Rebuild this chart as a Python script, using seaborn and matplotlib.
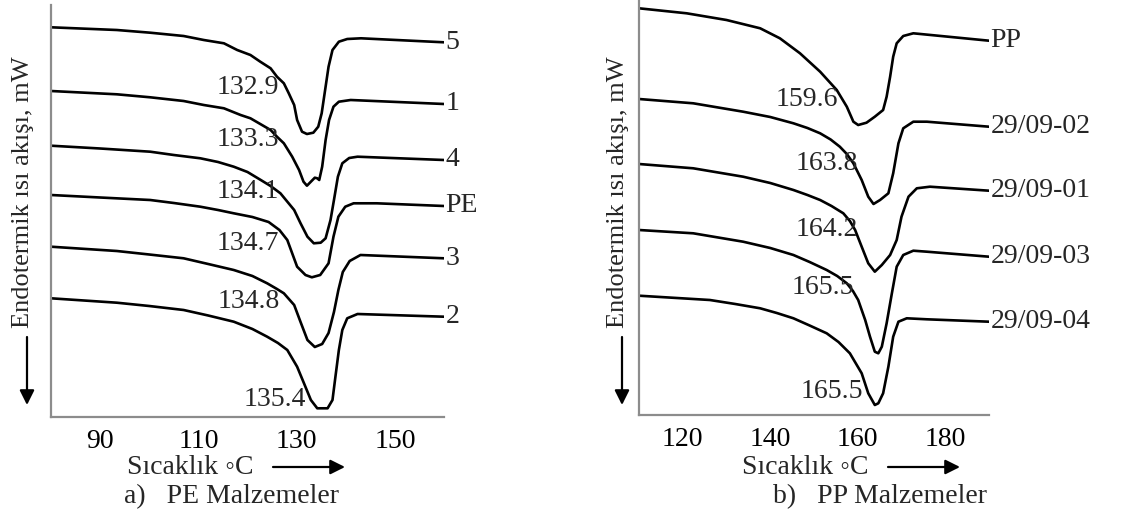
import numpy as np
import pandas as pd
import matplotlib
matplotlib.use("Agg")
import matplotlib.pyplot as plt
import seaborn as sns

# ---------------- data ----------------
# heat flow in arbitrary units (endotherm downward)
pe_names = ["5", "1", "4", "PE", "3", "2"]
pe_peaks = ["132.9", "133.3", "134.1", "134.7", "134.8", "135.4"]

pe5_T = [80, 93.4, 100.2, 107.0, 111.1, 115.2, 117.9, 120.6, 122.6, 124.7, 126.0, 127.4, 128.4, 129.5, 130.1, 131.1, 132.1, 133.4, 134.4, 135.1, 135.8, 136.5, 137.3, 138.6, 140.3, 143.1, 160]
pe5_q = [-27.3, -30, -32.7, -36, -40, -43.3, -50, -55, -61.7, -68.3, -76.7, -83.3, -93.3, -105, -120, -131.7, -134, -132.7, -126.7, -113.3, -90, -66.7, -50, -41.7, -39, -38.3, -42.3]

pe1_T = [80, 93.4, 100.2, 107.0, 111.1, 115.2, 118.6, 120.6, 122.6, 124.7, 126.0, 127.4, 129.1, 130.5, 131.4, 132.1, 132.9, 133.7, 134.2, 134.6, 135.2, 135.9, 136.6, 137.5, 138.6, 141.0, 160]
pe1_q = [-91, -94.3, -97.3, -101, -105, -108.3, -115, -118.3, -124, -130, -136.7, -143.3, -156.7, -170, -181.7, -185.7, -181.7, -177.7, -178.3, -180, -166.7, -140, -120, -106.7, -101.7, -100, -104]

pe4_T = [80, 90, 100.2, 105, 110.4, 114, 117.2, 120, 122.7, 124.7, 126.7, 129.5, 130.8, 132.2, 133.5, 134.9, 135.9, 136.9, 137.6, 138.4, 139.3, 140.7, 142.4, 160]
pe4_q = [-145.7, -148.5, -151.7, -155, -158.3, -162, -166.7, -172, -180, -186, -193.3, -210, -223.3, -236.7, -243.3, -242.7, -238.3, -220, -200, -176.7, -163.3, -158, -156.7, -160]

pePE_T = [80, 90, 100.2, 105, 110.4, 114, 117.2, 121, 124.3, 126.5, 128.1, 130.1, 131.8, 133.1, 134.8, 136.5, 137.5, 138.5, 139.9, 141.6, 146.3, 160]
pePE_q = [-195, -197.5, -200, -203, -206.7, -210, -213.3, -217, -222, -230, -240, -266.7, -275, -277.3, -275, -263.3, -236.7, -216.7, -206.7, -203.3, -203.3, -206]

pe3_T = [80, 93.4, 100, 107.0, 112, 117.2, 121, 124.0, 126, 127.4, 129.5, 130.8, 132.2, 133.7, 135.2, 136.5, 137.6, 138.5, 139.4, 140.8, 143.0, 160]
pe3_q = [-246.7, -251, -254.5, -258.3, -264, -270, -276, -283.3, -289, -293.3, -305, -322, -340, -347, -344, -333, -312, -290, -272, -261, -255, -258.3]

pe2_T = [80, 93.4, 100, 107.0, 112, 117.2, 121, 124.0, 126.2, 128.1, 130.1, 131.5, 132.9, 134.2, 136.3, 137.3, 137.9, 138.6, 139.3, 140.3, 142.4, 160]
pe2_q = [-298.3, -302.7, -306, -310, -315.5, -321.7, -329, -336.7, -343, -350, -366.7, -383.3, -400, -408.3, -408.3, -400, -376.7, -350, -330, -318.3, -314, -316.7]

pp_names = ["PP", "29/09-02", "29/09-01", "29/09-03", "29/09-04"]
pp_peaks = ["159.6", "163.8", "164.2", "165.5", "165.5"]

ppPP_T = [110, 120.9, 130, 137.7, 142.2, 146.8, 151.4, 155.2, 157.5, 159, 160.1, 162, 163.9, 165.8, 166.6, 167.4, 168.1, 168.9, 170.4, 172.7, 190]
ppPP_q = [-8.3, -13.3, -20, -28.3, -38.3, -53.3, -71.7, -90, -106.7, -121.7, -125, -122.7, -116.7, -110, -96.7, -76.7, -56.7, -43.3, -36, -33.3, -40.7]

pp02_T = [110, 122.4, 133.8, 140, 145.3, 148.5, 151.4, 153.8, 155.9, 157.5, 159, 160.9, 162.4, 163.6, 165.1, 167, 168.1, 169.3, 170.4, 172.7, 175.8, 190]
pp02_q = [-99, -103.3, -111.7, -117, -123.3, -128, -133.3, -139.5, -146.7, -154, -163.3, -180, -196.7, -204, -200, -193.3, -173.3, -143.3, -128.3, -121.7, -121.7, -126.7]

pp01_T = [110, 122.4, 133.8, 140, 145.3, 148.5, 151.4, 154, 156.7, 158.2, 159.4, 160.9, 162.4, 163.9, 165.5, 167.4, 168.9, 170, 171.6, 173.5, 176.5, 190]
pp01_q = [-164, -168.3, -176.7, -183, -190, -195, -200, -206, -213.3, -221, -230, -246.7, -263.3, -271.7, -265, -255, -240, -216.7, -196.7, -188.3, -186.7, -190.7]

pp03_T = [110, 122.4, 133.8, 140, 145.3, 149, 152.9, 155.3, 157.5, 158.9, 160.1, 161.7, 162.8, 163.9, 164.7, 165.5, 166.6, 167.8, 168.9, 170.4, 172.7, 175.8, 190]
pp03_q = [-230, -233.3, -241.7, -248, -255, -262, -270, -276, -283.3, -291, -300, -320, -336.7, -351.7, -353.3, -346.7, -323.3, -293.3, -266.7, -255, -250.7, -251.7, -256.7]

pp04_T = [110, 126.2, 132, 137.7, 141.5, 145.3, 149, 152.9, 155.6, 158.2, 160.9, 162.4, 163.9, 164.7, 165.8, 167, 168.1, 169.3, 171.2, 175.8, 190]
pp04_q = [-295.7, -300, -304, -308.3, -313, -318.3, -325.5, -333.3, -342, -353.3, -373.3, -393.3, -405, -403.3, -393.3, -366.7, -336.7, -321.7, -318.3, -319.3, -321.7]

pe_ticks = [90, 100, 110, 120, 130, 140, 150, 160]
pe_ticklabels = ["90", "", "110", "", "130", "", "150", ""]
pp_ticks = [120, 130, 140, 150, 160, 170, 180, 190]
pp_ticklabels = ["120", "", "140", "", "160", "", "180", ""]

# ---------------- build tables ----------------
pe_series = [(pe5_T, pe5_q), (pe1_T, pe1_q), (pe4_T, pe4_q), (pePE_T, pePE_q), (pe3_T, pe3_q), (pe2_T, pe2_q)]
pp_series = [(ppPP_T, ppPP_q), (pp02_T, pp02_q), (pp01_T, pp01_q), (pp03_T, pp03_q), (pp04_T, pp04_q)]

def to_df(names, series):
    rows = []
    for n, (t, q) in zip(names, series):
        for a, b in zip(t, q):
            rows.append({"T": a, "q": b, "name": n})
    return pd.DataFrame(rows)

pe_df = to_df(pe_names, pe_series)
pp_df = to_df(pp_names, pp_series)

# ---------------- style ----------------
sns.set_style("white")
plt.rcParams["font.family"] = ["Liberation Serif", "DejaVu Serif"]
FS = 20
AXC = "#8c8c8c"

W, H = 1144, 516
fig = plt.figure(figsize=(W / 100, H / 100), dpi=100)

def px(x, y):
    return (x / W, 1 - y / H)

ax1 = fig.add_axes([51 / W, 1 - 417 / H, (444 - 51) / W, (417 - 5) / H])
ax2 = fig.add_axes([639 / W, 1 - 415 / H, (989 - 639) / W, 415 / H])

for ax, df, names, xlim, ylim, ticks, tlabels in [
    (ax1, pe_df, pe_names, (80, 160), (-417, -5), pe_ticks, pe_ticklabels),
    (ax2, pp_df, pp_names, (110, 190), (-415, 0), pp_ticks, pp_ticklabels),
]:
    sns.lineplot(data=df, x="T", y="q", hue="name", hue_order=names,
                 palette={n: "black" for n in names}, estimator=None, sort=False,
                 linewidth=1.9, legend=False, ax=ax)
    for ln in ax.get_lines():
        ln.set_solid_joinstyle("round")
        ln.set_solid_capstyle("round")
    ax.set_xlim(*xlim)
    ax.set_ylim(*ylim)
    ax.set_xticks(ticks)
    ax.set_xticklabels(tlabels)
    ax.set_yticks([])
    ax.set_xlabel("")
    ax.set_ylabel("")
    for s in ["top", "right"]:
        ax.spines[s].set_visible(False)
    for s in ["left", "bottom"]:
        ax.spines[s].set_color(AXC)
        ax.spines[s].set_linewidth(1.6)
    ax.tick_params(axis="x", direction="out", length=6, width=1.6, color=AXC,
                   labelsize=FS, labelcolor="black", pad=3)
    # end-of-curve labels
    for n in names:
        sub = df[df["name"] == n]
        ax.text(sub["T"].iloc[-1] + 0.3, sub["q"].iloc[-1], n, ha="left", va="center",
                fontsize=FS, clip_on=False)

# peak temperature annotations (layout positions)
pe_lab_pos = [(126.5, -87), (126.5, -140), (126.5, -192), (126.5, -243), (126.6, -302), (132.0, -400)]
for lab, (x, y) in zip(pe_peaks, pe_lab_pos):
    ax1.text(x, y, lab, ha="right", va="center", fontsize=FS)
pp_lab_pos = [(155.5, -100), (160.0, -163), (160.0, -230), (159.1, -287), (161.2, -392)]
for lab, (x, y) in zip(pp_peaks, pp_lab_pos):
    ax2.text(x, y, lab, ha="right", va="center", fontsize=FS)

# axis titles and arrows
arrow = dict(arrowstyle="-|>", color="black", lw=1.6, mutation_scale=22, shrinkA=0, shrinkB=0)
for yx, ax0 in [(23, 51), (618, 639)]:
    fig.text(*px(yx, 192), "Endotermik ısı akışı, mW", rotation=90, ha="center", va="center", fontsize=19)
    fig.add_artist(plt.Annotation("", xy=px(yx + 4, 405), xytext=px(yx + 4, 337),
                                  xycoords="figure fraction", textcoords="figure fraction", arrowprops=arrow))

for cx, a0, a1, sub_cx, sub in [(190, 273, 345, 232, "a)   PE Malzemeler"),
                                 (805, 888, 960, 880, "b)   PP Malzemeler")]:
    fig.text(*px(cx, 468), "Sıcaklık ◦C", ha="center", va="center", fontsize=FS)
    fig.add_artist(plt.Annotation("", xy=px(a1, 467), xytext=px(a0, 467),
                                  xycoords="figure fraction", textcoords="figure fraction", arrowprops=arrow))
    fig.text(*px(sub_cx, 497), sub, ha="center", va="center", fontsize=FS)

fig.savefig("out.png", dpi=100, facecolor="white")
